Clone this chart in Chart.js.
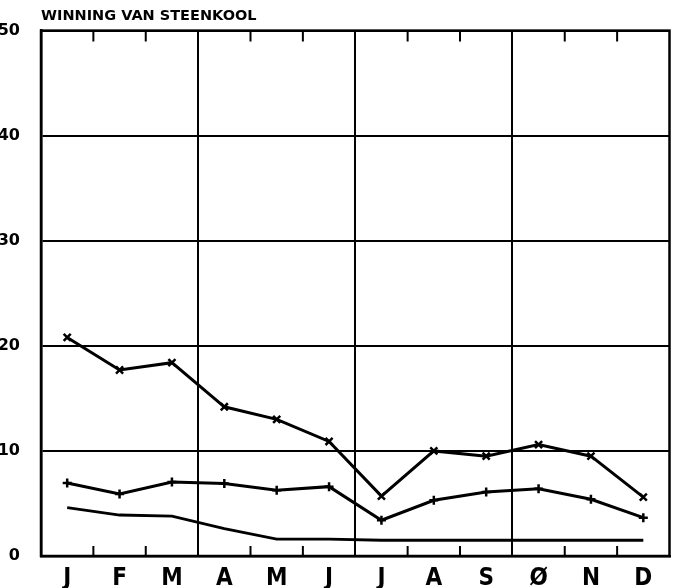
<!DOCTYPE html>
<html>
<head>
<meta charset="utf-8">
<script src="https://cdn.jsdelivr.net/npm/chart.js@4/dist/chart.umd.min.js"></script>
<style>
  html, body { margin: 0; padding: 0; background: #fff; }
  #wrap { width: 677px; height: 588px; }
</style>
</head>
<body>
<div id="wrap"><canvas id="chart"></canvas></div>
<script>
// maanden en waarden
const maanden = ['J', 'F', 'M', 'A', 'M', 'J', 'J', 'A', 'S', 'Ø', 'N', 'D'];
const reeksKruis = [20.8, 17.7, 18.4, 14.2, 13.0, 10.9, 5.7, 10.0, 9.5, 10.6, 9.5, 5.6];
const reeksPlus = [6.95, 5.9, 7.05, 6.9, 6.25, 6.6, 3.4, 5.3, 6.1, 6.4, 5.4, 3.65];
const reeksLijn = [4.6, 3.9, 3.8, 2.6, 1.6, 1.6, 1.5, 1.5, 1.5, 1.5, 1.5, 1.5];
const yTicks = [0, 10, 20, 30, 40, 50];

// kader en kleine maandstreepjes
const kaderPlugin = {
    id: 'kader',
    afterDraw(chart) {
        const ctx = chart.ctx;
        const a = chart.chartArea;
        const x = chart.scales.x;
        ctx.save();
        ctx.strokeStyle = '#000';
        ctx.lineWidth = 2.5;
        ctx.strokeRect(a.left, a.top, a.right - a.left, a.bottom - a.top);
        ctx.lineWidth = 2;
        for (let i = 1; i < maanden.length; i++) {
            if (i % 3 === 0) continue;
            const px = (x.getPixelForValue(i - 1) + x.getPixelForValue(i)) / 2;
            ctx.beginPath();
            ctx.moveTo(px, a.top);
            ctx.lineTo(px, a.top + 11);
            ctx.moveTo(px, a.bottom);
            ctx.lineTo(px, a.bottom - 10);
            ctx.stroke();
        }
        ctx.restore();
    }
};

const ctx = document.getElementById('chart').getContext('2d');
new Chart(ctx, {
    type: 'line',
    data: {
        labels: maanden,
        datasets: [{
            data: reeksKruis,
            borderColor: '#000',
            borderWidth: 3,
            pointStyle: 'crossRot',
            pointRadius: 5,
            pointBorderWidth: 2.5,
            pointBorderColor: '#000',
            tension: 0
        }, {
            data: reeksPlus,
            borderColor: '#000',
            borderWidth: 3,
            pointStyle: 'cross',
            pointRadius: 4.5,
            pointBorderWidth: 2.5,
            pointBorderColor: '#000',
            tension: 0
        }, {
            data: reeksLijn,
            borderColor: '#000',
            borderWidth: 2.8,
            pointRadius: 0,
            tension: 0
        }]
    },
    options: {
        responsive: true,
        maintainAspectRatio: false,
        animation: false,
        layout: {
            padding: { left: 0, right: 6, top: 0, bottom: 0 }
        },
        scales: {
            x: {
                offset: true,
                afterFit: function(scale) { scale.height = 32; },
                grid: {
                    offset: true,
                    drawTicks: false,
                    lineWidth: 2,
                    color: function(c) { return c.index % 3 === 0 ? '#000' : 'rgba(0,0,0,0)'; }
                },
                border: { display: true, color: '#000', width: 2.5 },
                ticks: {
                    padding: 8,
                    color: '#000',
                    font: { family: "'Liberation Sans Narrow', 'DejaVu Sans Condensed', sans-serif", size: 24, weight: 'bold' }
                }
            },
            y: {
                min: 0,
                max: 50,
                afterFit: function(scale) { scale.width = 41; },
                afterBuildTicks: function(scale) { scale.ticks = yTicks.map(v => ({ value: v })); },
                grid: {
                    drawTicks: false,
                    lineWidth: 2,
                    color: '#000'
                },
                border: { display: true, color: '#000', width: 2.5 },
                ticks: {
                    padding: 21,
                    color: '#000',
                    font: { family: "'DejaVu Sans', sans-serif", size: 16, weight: 'bold' }
                }
            }
        },
        plugins: {
            legend: { display: false },
            tooltip: { enabled: false },
            title: {
                display: true,
                text: 'WINNING VAN STEENKOOL',
                align: 'start',
                fullSize: false,
                color: '#000',
                padding: { top: 6, bottom: 5 },
                font: { family: "'DejaVu Sans', sans-serif", size: 14.5, weight: 'bold', lineHeight: 1.25 }
            }
        }
    },
    plugins: [kaderPlugin]
});
</script>
</body>
</html>
